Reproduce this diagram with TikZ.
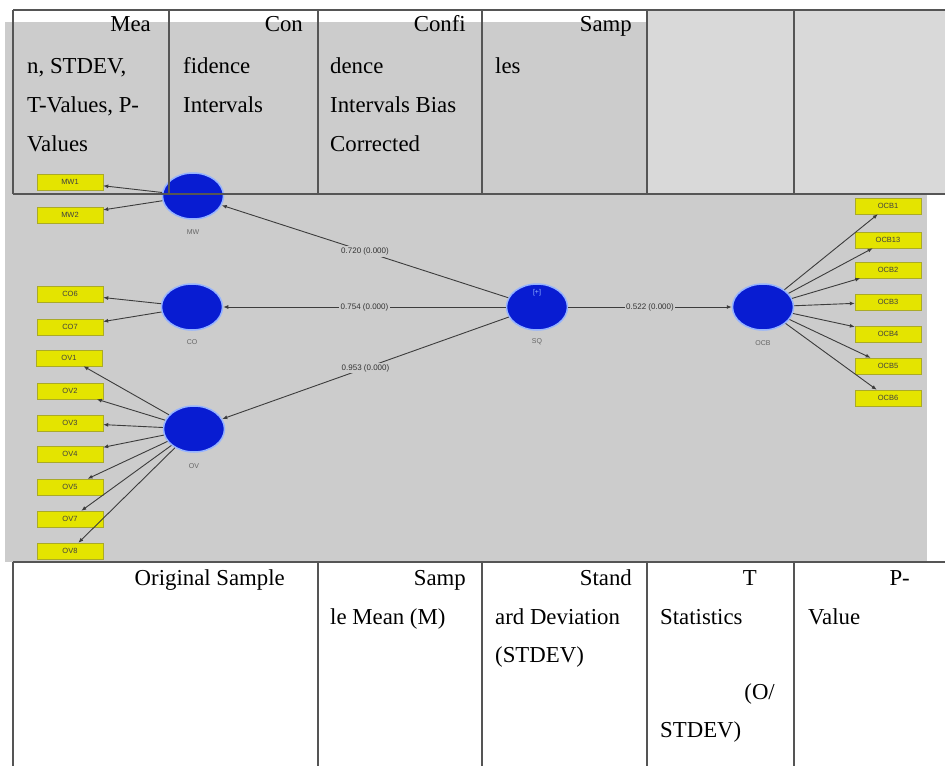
\documentclass[tikz,border=0pt]{standalone}
\usepackage{fontspec}
\setmainfont{Liberation Serif}
\newfontfamily\diagfont{Liberation Sans}
\usetikzlibrary{shapes.geometric,arrows.meta}
\definecolor{bggray}{RGB}{204,204,204}
\definecolor{cellgray}{RGB}{217,217,217}
\definecolor{indfill}{RGB}{228,228,0}
\definecolor{indborder}{RGB}{170,170,40}
\definecolor{lvfill}{RGB}{8,28,210}
\definecolor{lvedge}{RGB}{150,180,255}
\definecolor{rulecol}{RGB}{85,85,85}
\definecolor{arrcol}{RGB}{60,60,60}
\begin{document}
\begin{tikzpicture}[x=1pt,y=-1pt,
 indbox/.style={draw=indborder, fill=indfill, minimum width=66pt, minimum height=16pt, inner sep=0pt, font=\diagfont\fontsize{7.5}{8}\selectfont, text=black!75},
 latent/.style={ellipse, draw=lvedge, line width=1.5pt, fill=lvfill, minimum width=61pt, minimum height=46pt, inner sep=0pt},
 lvlabel/.style={font=\diagfont\fontsize{7}{8}\selectfont, text=black!60, inner sep=0pt},
 coef/.style={fill=bggray, inner sep=1.5pt, font=\diagfont\fontsize{8}{9}\selectfont, text=black!80},
 load/.style={draw=arrcol, line width=0.9pt, -{Latex[length=5pt,width=4pt]}},
 cellr/.style={font=\fontsize{22.8}{24}\selectfont, inner sep=0pt, anchor=base east},
 celll/.style={font=\fontsize{22.8}{24}\selectfont, inner sep=0pt, anchor=base west},
 tabline/.style={draw=rulecol, line width=1.2pt}]

\useasboundingbox (0,0) rectangle (945,766);
\fill[white] (0,0) rectangle (945,766);
\fill[bggray] (5,22) rectangle (927,562);
\fill[cellgray] (647,10) rectangle (945,194);

% latent variables
\node[latent] (MW) at (193,196) {};
\node[latent] (CO) at (192,307) {};
\node[latent] (OV) at (194,429) {};
\node[latent] (SQ) at (537,307) {};
\node[latent] (OCB) at (763,307) {};

\node[lvlabel] (MWl) at (193,232) {MW};
\node[lvlabel] (COl) at (192,342) {CO};
\node[lvlabel] (OVl) at (194,466) {OV};
\node[lvlabel] (SQl) at (537,342) {SQ};
\node[lvlabel] (OCBl) at (763,343) {OCB};
\node[lvlabel, text=lvedge] (SQplus) at (537,293) {[+]};

% indicators left
\node[indbox] (MW1) at (70,182) {MW1};
\node[indbox] (MW2) at (70,215) {MW2};
\node[indbox] (CO6) at (70,294) {CO6};
\node[indbox] (CO7) at (70,327) {CO7};
\node[indbox] (OV1) at (69,358) {OV1};
\node[indbox] (OV2) at (70,391) {OV2};
\node[indbox] (OV3) at (70,423) {OV3};
\node[indbox] (OV4) at (70,454) {OV4};
\node[indbox] (OV5) at (70,487) {OV5};
\node[indbox] (OV7) at (70,519) {OV7};
\node[indbox] (OV8) at (70,551) {OV8};

% indicators right
\node[indbox] (OCB1) at (888,206) {OCB1};
\node[indbox] (OCB13) at (888,240) {OCB13};
\node[indbox] (OCB2) at (888,270) {OCB2};
\node[indbox] (OCB3) at (888,302) {OCB3};
\node[indbox] (OCB4) at (888,334) {OCB4};
\node[indbox] (OCB5) at (888,366) {OCB5};
\node[indbox] (OCB6) at (888,398) {OCB6};

% loadings
\foreach \i in {MW1,MW2} \draw[load] (MW) -- (\i);
\foreach \i in {CO6,CO7} \draw[load] (CO) -- (\i);
\foreach \i in {OV1,OV2,OV3,OV4,OV5,OV7,OV8} \draw[load] (OV) -- (\i);
\foreach \i in {OCB1,OCB13,OCB2,OCB3,OCB4,OCB5,OCB6} \draw[load] (OCB) -- (\i);

% structural paths
\draw[load] (SQ) -- node[coef, pos=0.5] (c1) {0.720 (0.000)} (MW);
\draw[load] (SQ) -- node[coef, pos=0.5] (c2) {0.754 (0.000)} (CO);
\draw[load] (SQ) -- node[coef, pos=0.5] (c3) {0.953 (0.000)} (OV);
\draw[load] (SQ) -- node[coef, pos=0.5] (c4) {0.522 (0.000)} (OCB);

% top table
\draw[tabline] (13,10) -- (945,10);
\draw[tabline] (13,194) -- (945,194);
\foreach \x in {13,169,318,482,647,794} \draw[tabline] (\x,10) -- (\x,194);

\node[cellr] (t1a) at (151,31) {Mea};
\node[celll] (t1b) at (27,73) {n, STDEV,};
\node[celll] (t1c) at (27,112) {T-Values, P-};
\node[celll] (t1d) at (27,151.5) {Values};
\node[cellr] (t2a) at (303,31) {Con};
\node[celll] (t2b) at (183,73) {fidence};
\node[celll] (t2c) at (183,112) {Intervals};
\node[cellr] (t3a) at (466,31) {Confi};
\node[celll] (t3b) at (330,73) {dence};
\node[celll] (t3c) at (330,112) {Intervals Bias};
\node[celll] (t3d) at (330,151.5) {Corrected};
\node[cellr] (t4a) at (632,31) {Samp};
\node[celll] (t4b) at (495,73) {les};

% bottom table
\draw[tabline] (13,562) -- (945,562);
\foreach \x in {13,318,482,647,794} \draw[tabline] (\x,562) -- (\x,766);

\node[cellr] (b1a) at (285,585) {Original Sample};
\node[cellr] (b2a) at (466,585) {Samp};
\node[celll] (b2b) at (330,624) {le Mean (M)};
\node[cellr] (b3a) at (632,585) {Stand};
\node[celll] (b3b) at (495,624) {ard Deviation};
\node[celll] (b3c) at (495,662) {(STDEV)};
\node[cellr] (b4a) at (757,585) {T};
\node[celll] (b4b) at (660,624) {Statistics};
\node[cellr] (b4c) at (775,699) {(O/};
\node[celll] (b4d) at (660,737) {STDEV)};
\node[cellr] (b5a) at (910,585) {P-};
\node[celll] (b5b) at (808,624) {Value};
\end{tikzpicture}
\end{document}
